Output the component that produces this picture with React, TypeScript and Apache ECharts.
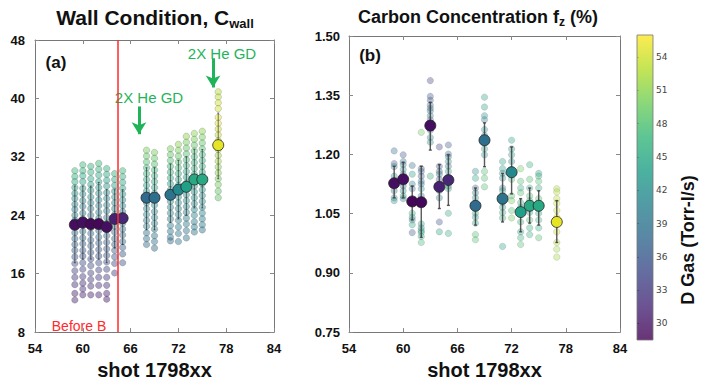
import { useEffect, useRef } from 'react';
import * as echarts from 'echarts';

const shots = [59, 60, 61, 62, 63, 64, 65, 68, 69, 71, 72, 73, 74, 75, 77];
const gasBig = [29.5, 29.5, 29, 29, 29.5, 31, 31.5, 38, 38.5, 39, 41.5, 44, 45, 45, 55];
const wallMean = [22.7, 23.0, 22.8, 22.8, 22.4, 23.5, 23.6, 26.4, 26.4, 26.8, 27.5, 27.9, 28.9, 28.9, 33.6];
const wallLo = [17.5, 18, 18, 18, 17.5, 19.5, 20, 22, 22, 23, 23.5, 24, 25, 25, 29];
const wallHi = [28, 28, 28, 28.5, 27.5, 27.5, 27.5, 30.5, 30.5, 31, 31.5, 32, 33, 33, 38];
const fzMean = [1.127, 1.137, 1.081, 1.079, 1.273, 1.118, 1.135, 1.07, 1.236, 1.088, 1.155, 1.054, 1.07, 1.07, 1.029];
const fzLo = [1.09, 1.09, 1.034, 0.99, 1.211, 1.063, 1.071, 1.021, 1.169, 1.029, 1.1, 1.004, 1.026, 1.021, 0.977];
const fzHi = [1.17, 1.18, 1.12, 1.17, 1.332, 1.174, 1.199, 1.115, 1.28, 1.152, 1.219, 1.088, 1.115, 1.108, 1.083];

// [shot, wall value, gas]
const wallPoints = [
  [59, 30.1, 47], [59, 29.3, 46], [59, 28.6, 45], [59, 27.8, 44], [59, 27.0, 43], [59, 26.3, 42], [59, 25.5, 41], [59, 24.8, 40], [59, 24.0, 40], [59, 23.3, 39], [59, 22.4, 39], [59, 21.6, 38], [59, 20.8, 38], [59, 20.0, 37], [59, 19.2, 37], [59, 18.3, 36], [59, 17.4, 35], [59, 16.4, 34], [59, 15.5, 33], [59, 14.5, 32], [59, 13.3, 31], [59, 12.4, 31],
  [60, 30.9, 47], [60, 30.1, 46], [60, 29.4, 45], [60, 28.6, 44], [60, 27.7, 43], [60, 26.9, 42], [60, 26.0, 41], [60, 25.2, 40], [60, 24.3, 40], [60, 23.5, 39], [60, 22.6, 39], [60, 21.8, 38], [60, 20.9, 38], [60, 20.1, 37], [60, 19.2, 36], [60, 18.4, 36], [60, 17.5, 35], [60, 16.6, 34], [60, 15.6, 33], [60, 14.7, 32], [60, 13.9, 32], [60, 13.1, 31],
  [61, 30.7, 46], [61, 29.9, 46], [61, 29.0, 45], [61, 28.2, 44], [61, 27.4, 43], [61, 26.5, 42], [61, 25.7, 41], [61, 24.9, 40], [61, 24.0, 39], [61, 23.2, 39], [61, 22.3, 38], [61, 21.5, 38], [61, 20.6, 37], [61, 19.8, 37], [61, 18.9, 36], [61, 18.0, 35], [61, 17.1, 35], [61, 16.1, 34], [61, 15.2, 33], [61, 14.3, 32], [61, 13.1, 31],
  [62, 31.1, 47], [62, 30.3, 46], [62, 29.5, 45], [62, 28.6, 44], [62, 27.8, 43], [62, 27.0, 42], [62, 26.1, 41], [62, 25.3, 40], [62, 24.4, 40], [62, 23.6, 39], [62, 22.7, 39], [62, 21.9, 38], [62, 21.0, 38], [62, 20.2, 37], [62, 19.3, 36], [62, 18.4, 36], [62, 17.5, 35], [62, 16.5, 34], [62, 15.5, 33], [62, 14.4, 32], [62, 13.1, 31],
  [63, 30.4, 46], [63, 29.6, 45], [63, 28.8, 44], [63, 28.0, 43], [63, 27.1, 42], [63, 26.3, 41], [63, 25.4, 40], [63, 24.6, 40], [63, 23.7, 39], [63, 22.9, 39], [63, 22.0, 38], [63, 21.2, 38], [63, 20.3, 37], [63, 19.4, 36], [63, 18.5, 36], [63, 17.6, 35], [63, 16.6, 34], [63, 15.5, 33], [63, 14.4, 32], [63, 13.3, 31], [63, 12.5, 30],
  [64, 29.7, 46], [64, 28.9, 45], [64, 28.1, 44], [64, 27.3, 43], [64, 26.5, 42], [64, 25.7, 41], [64, 24.9, 40], [64, 24.1, 40], [64, 23.3, 39], [64, 22.5, 39], [64, 21.7, 38], [64, 20.8, 38], [64, 20.0, 37], [64, 19.2, 37], [64, 18.3, 36], [64, 17.4, 35], [64, 16.1, 34],
  [65, 30.1, 47], [65, 29.3, 46], [65, 28.5, 45], [65, 27.7, 44], [65, 26.9, 43], [65, 26.1, 42], [65, 25.3, 41], [65, 24.5, 40], [65, 23.7, 40], [65, 22.9, 39], [65, 22.1, 39], [65, 21.3, 38], [65, 20.4, 38], [65, 19.6, 37], [65, 18.7, 36], [65, 17.5, 36],
  [68, 32.9, 50], [68, 32.1, 49], [68, 31.3, 48], [68, 30.5, 47], [68, 29.7, 46], [68, 28.9, 45], [68, 28.1, 44], [68, 27.3, 43], [68, 26.5, 42], [68, 25.7, 42], [68, 24.9, 41], [68, 24.1, 41], [68, 23.3, 40], [68, 22.5, 40], [68, 21.6, 39], [68, 20.8, 39], [68, 20.0, 38],
  [69, 32.6, 50], [69, 31.8, 49], [69, 31.0, 48], [69, 30.2, 47], [69, 29.4, 46], [69, 28.6, 45], [69, 27.8, 44], [69, 27.0, 43], [69, 26.2, 42], [69, 25.4, 42], [69, 24.5, 41], [69, 23.7, 41], [69, 22.9, 40], [69, 22.1, 40], [69, 21.2, 39], [69, 20.4, 39], [69, 19.5, 38],
  [71, 33.1, 50], [71, 32.3, 49], [71, 31.5, 48], [71, 30.7, 47], [71, 29.9, 46], [71, 29.1, 45], [71, 28.3, 44], [71, 27.5, 43], [71, 26.7, 42], [71, 25.9, 42], [71, 25.1, 41], [71, 24.3, 41], [71, 23.5, 40], [71, 22.6, 40], [71, 21.8, 39], [71, 21.0, 39], [71, 20.5, 38],
  [72, 33.7, 51], [72, 32.9, 50], [72, 32.1, 49], [72, 31.3, 48], [72, 30.5, 47], [72, 29.7, 46], [72, 28.9, 45], [72, 28.1, 44], [72, 27.3, 43], [72, 26.5, 42], [72, 25.7, 42], [72, 24.9, 41], [72, 24.1, 41], [72, 23.3, 40], [72, 22.4, 40], [72, 21.5, 39], [72, 20.4, 39],
  [73, 34.8, 51], [73, 34.0, 50], [73, 33.2, 49], [73, 32.4, 48], [73, 31.6, 47], [73, 30.8, 46], [73, 30.0, 45], [73, 29.2, 44], [73, 28.4, 44], [73, 27.6, 43], [73, 26.8, 42], [73, 26.0, 42], [73, 25.2, 41], [73, 24.4, 41], [73, 23.6, 40], [73, 22.8, 40], [73, 21.9, 39], [73, 20.9, 39],
  [74, 35.2, 51], [74, 34.4, 50], [74, 33.6, 49], [74, 32.8, 48], [74, 32.0, 47], [74, 31.2, 46], [74, 30.4, 46], [74, 29.6, 45], [74, 28.8, 44], [74, 28.0, 43], [74, 27.2, 43], [74, 26.4, 42], [74, 25.6, 42], [74, 24.8, 41], [74, 24.0, 41], [74, 23.1, 40], [74, 22.4, 40], [74, 21.7, 39],
  [75, 35.5, 51], [75, 34.7, 50], [75, 33.9, 49], [75, 33.1, 48], [75, 32.3, 47], [75, 31.5, 46], [75, 30.7, 46], [75, 29.9, 45], [75, 29.1, 44], [75, 28.3, 43], [75, 27.5, 43], [75, 26.7, 42], [75, 25.9, 42], [75, 25.1, 41], [75, 24.3, 41], [75, 23.5, 40], [75, 22.7, 40], [75, 22.0, 39],
  [77, 40.9, 53], [77, 40.2, 53], [77, 39.4, 54], [77, 38.6, 54], [77, 37.4, 55], [77, 36.6, 55], [77, 35.8, 54], [77, 35.0, 54], [77, 34.2, 53], [77, 33.0, 53], [77, 32.2, 52], [77, 31.4, 52], [77, 30.6, 51], [77, 29.8, 51], [77, 29.0, 50], [77, 28.2, 50], [77, 27.3, 49], [77, 26.4, 49],
];

// [shot, fz value, gas]
const fzPoints = [
  [59, 1.209, 38], [59, 1.177, 36], [59, 1.169, 40], [59, 1.145, 42], [59, 1.108, 38], [59, 1.09, 40], [59, 1.083, 43],
  [60, 1.199, 36], [60, 1.182, 38], [60, 1.174, 40], [60, 1.162, 42], [60, 1.15, 40], [60, 1.12, 38], [60, 1.108, 42], [60, 1.095, 44], [60, 1.088, 40],
  [61, 1.172, 38], [61, 1.15, 44], [61, 1.125, 40], [61, 1.113, 38], [61, 1.051, 46], [61, 1.041, 44], [61, 1.034, 40], [61, 1.022, 45], [61, 1.002, 36],
  [62, 1.256, 50], [62, 1.164, 36], [62, 1.157, 38], [62, 1.145, 36], [62, 1.132, 40], [62, 1.125, 38], [62, 1.113, 42], [62, 1.095, 40], [62, 1.024, 44], [62, 1.014, 42], [62, 1.007, 46], [62, 1.002, 44], [62, 0.992, 45], [62, 0.977, 47],
  [63, 1.387, 33], [63, 1.347, 35], [63, 1.337, 36], [63, 1.325, 38], [63, 1.317, 37], [63, 1.31, 39], [63, 1.298, 40], [63, 1.288, 38], [63, 1.28, 40], [63, 1.261, 42], [63, 1.243, 40], [63, 1.231, 42], [63, 1.145, 46],
  [64, 1.219, 33], [64, 1.17, 36], [64, 1.157, 38], [64, 1.15, 40], [64, 1.137, 36], [64, 1.108, 38], [64, 1.09, 40], [64, 1.029, 35], [64, 1.004, 44],
  [65, 1.224, 36], [65, 1.201, 38], [65, 1.194, 40], [65, 1.182, 42], [65, 1.17, 40], [65, 1.157, 44], [65, 1.12, 46], [65, 1.113, 44], [65, 1.051, 45], [65, 1.0, 46],
  [68, 1.157, 42], [68, 1.14, 45], [68, 1.115, 38], [68, 1.103, 40], [68, 1.09, 42], [68, 1.063, 44], [68, 1.051, 46], [68, 1.041, 42], [68, 1.026, 44], [68, 0.997, 48], [68, 0.984, 48],
  [69, 1.345, 44], [69, 1.32, 44], [69, 1.298, 42], [69, 1.288, 40], [69, 1.263, 42], [69, 1.248, 40], [69, 1.231, 42], [69, 1.214, 44], [69, 1.199, 42], [69, 1.157, 48], [69, 1.14, 48], [69, 1.118, 48],
  [71, 1.182, 44], [71, 1.164, 44], [71, 1.152, 42], [71, 1.14, 42], [71, 1.115, 40], [71, 1.108, 44], [71, 1.078, 42], [71, 1.066, 44], [71, 1.053, 46], [71, 1.039, 46], [71, 0.967, 44],
  [72, 1.236, 44], [72, 1.214, 42], [72, 1.199, 44], [72, 1.182, 42], [72, 1.162, 46], [72, 1.137, 48], [72, 1.095, 48], [72, 1.083, 50], [72, 1.058, 48], [72, 1.039, 50],
  [73, 1.164, 50], [73, 1.132, 48], [73, 1.115, 46], [73, 1.103, 48], [73, 1.078, 46], [73, 1.066, 44], [73, 1.029, 46], [73, 1.004, 44], [73, 0.989, 46], [73, 0.972, 48],
  [74, 1.174, 46], [74, 1.137, 48], [74, 1.115, 46], [74, 1.095, 48], [74, 1.083, 46], [74, 1.053, 44], [74, 1.034, 48], [74, 1.014, 46], [74, 0.997, 46],
  [75, 1.152, 44], [75, 1.145, 46], [75, 1.132, 48], [75, 1.115, 46], [75, 1.088, 48], [75, 1.063, 46], [75, 1.051, 44], [75, 1.034, 46], [75, 1.014, 46], [75, 0.989, 48],
  [77, 1.113, 52], [77, 1.105, 53], [77, 1.088, 53], [77, 1.076, 54], [77, 1.058, 54], [77, 1.041, 55], [77, 1.004, 54], [77, 0.977, 53], [77, 0.96, 52], [77, 0.94, 52],
];

const gasTicks = [30, 33, 36, 39, 42, 45, 48, 51, 54];
const gasMin = 28.5;
const gasMax = 56;
const viridis = ['#440154', '#482878', '#3e4989', '#31688e', '#26828e', '#1f9e89', '#35b779', '#6ece58', '#b5de2b', '#fde725'];

const FONT = 'Liberation Sans, Arial, Helvetica, sans-serif';
const GREEN = '#1fb45a';

function errRender(color: string, width: number, cap: number) {
  return (params: any, api: any) => {
    const x = api.value(0);
    const p1 = api.coord([x, api.value(1)]);
    const p2 = api.coord([x, api.value(2)]);
    const st = { stroke: color, lineWidth: width };
    return {
      type: 'group',
      children: [
        { type: 'line', shape: { x1: p1[0], y1: p1[1], x2: p2[0], y2: p2[1] }, style: st },
        { type: 'line', shape: { x1: p1[0] - cap, y1: p1[1], x2: p1[0] + cap, y2: p1[1] }, style: st },
        { type: 'line', shape: { x1: p2[0] - cap, y1: p2[1], x2: p2[0] + cap, y2: p2[1] }, style: st },
      ],
    };
  };
}

export default function App() {
  const ref = useRef<HTMLDivElement>(null);
  useEffect(() => {
    if (!ref.current) return;
    const chart = echarts.init(ref.current, null, { renderer: 'svg' });

    const axisLbl = { fontFamily: FONT, fontWeight: 'bold', fontSize: 13, color: '#111' };
    const lineC = { lineStyle: { color: '#777', width: 1 } };
    const tickIn = { show: true, inside: true, length: 4, lineStyle: { color: '#888' } };

    const xBase = (grid: number) => ({
      type: 'value', gridIndex: grid, min: 54, max: 84, interval: 6,
      axisLine: lineC, axisTick: tickIn, splitLine: { show: false },
      axisLabel: { ...axisLbl, margin: 10 },
      name: 'shot 1798xx', nameLocation: 'middle', nameGap: 21,
      nameTextStyle: { fontFamily: FONT, fontWeight: 'bold', fontSize: 20, color: '#111' },
    });
    const xTop = (grid: number) => ({
      type: 'value', gridIndex: grid, position: 'top', min: 54, max: 84, interval: 6,
      axisLine: lineC, axisTick: tickIn, axisLabel: { show: false }, splitLine: { show: false },
    });

    const option: any = {
      animation: false,
      backgroundColor: '#fff',
      grid: [
        { left: 35, top: 40, width: 239, height: 300 },
        { left: 349, top: 36, width: 271, height: 304 },
        { left: 637, top: 35, width: 16, height: 305 },
      ],
      xAxis: [
        xBase(0), xTop(0), xBase(1), xTop(1),
        { type: 'value', gridIndex: 2, show: false, min: 0, max: 1 },
      ],
      yAxis: [
        { type: 'value', gridIndex: 0, min: 8, max: 48, interval: 8, axisLine: lineC, axisTick: tickIn, splitLine: { show: false }, axisLabel: { ...axisLbl, margin: 10 } },
        { type: 'value', gridIndex: 0, position: 'right', min: 8, max: 48, interval: 8, axisLine: lineC, axisTick: tickIn, splitLine: { show: false }, axisLabel: { show: false } },
        { type: 'value', gridIndex: 1, min: 0.75, max: 1.5, interval: 0.15, axisLine: lineC, axisTick: tickIn, splitLine: { show: false }, axisLabel: { ...axisLbl, margin: 9, formatter: (v: number) => v.toFixed(2) } },
        { type: 'value', gridIndex: 1, position: 'right', min: 0.75, max: 1.5, interval: 0.15, axisLine: lineC, axisTick: tickIn, splitLine: { show: false }, axisLabel: { show: false } },
        {
          type: 'value', gridIndex: 2, position: 'right', min: gasMin, max: gasMax,
          axisLine: { show: false }, splitLine: { show: false },
          axisTick: { show: true, length: 2, customValues: gasTicks, lineStyle: { color: '#666' } },
          axisLabel: { show: true, margin: 3, customValues: gasTicks, fontFamily: 'DejaVu Sans, sans-serif', fontSize: 9, color: '#444' },
        },
      ],
      visualMap: {
        type: 'continuous', show: false, min: gasMin, max: gasMax, dimension: 2,
        seriesIndex: [0, 2, 3, 5], inRange: { color: viridis },
      },
      series: [
        {
          type: 'scatter', xAxisIndex: 0, yAxisIndex: 0, data: wallPoints, symbolSize: 6.5, z: 2,
          itemStyle: { opacity: 0.45, borderColor: 'rgba(40,40,40,0.6)', borderWidth: 0.7 },
          markLine: {
            silent: true, symbol: ['none', 'none'], label: { show: false },
            lineStyle: { color: '#ff2a2a', width: 1.5, type: 'solid' },
            data: [{ xAxis: 64.4 }],
          },
        },
        {
          type: 'custom', xAxisIndex: 0, yAxisIndex: 0, z: 3,
          data: shots.map((s, i) => [s, wallLo[i], wallHi[i]]),
          encode: { x: 0, y: [1, 2] },
          renderItem: errRender('rgba(30,30,30,0.6)', 1, 1),
        },
        {
          type: 'scatter', xAxisIndex: 0, yAxisIndex: 0, z: 4, symbolSize: 11,
          data: shots.map((s, i) => [s, wallMean[i], gasBig[i]]),
          itemStyle: { opacity: 1, borderColor: '#222', borderWidth: 0.8 },
          markLine: {
            silent: true, symbol: ['none', 'arrow'], symbolSize: [11, 12], label: { show: false },
            lineStyle: { color: GREEN, width: 3, type: 'solid' },
            data: [
              [{ coord: [67.05, 38.9] }, { coord: [67.05, 35.1] }],
              [{ coord: [76.35, 45.5] }, { coord: [76.35, 41.5] }],
            ],
          },
        },
        {
          type: 'scatter', xAxisIndex: 2, yAxisIndex: 2, data: fzPoints, symbolSize: 6.5, z: 2,
          itemStyle: { opacity: 0.35, borderColor: 'rgba(40,40,40,0.5)', borderWidth: 0.7 },
        },
        {
          type: 'custom', xAxisIndex: 2, yAxisIndex: 2, z: 3,
          data: shots.map((s, i) => [s, fzLo[i], fzHi[i]]),
          encode: { x: 0, y: [1, 2] },
          renderItem: errRender('rgba(60,60,60,0.85)', 1.4, 1.5),
        },
        {
          type: 'scatter', xAxisIndex: 2, yAxisIndex: 2, z: 4, symbolSize: 11,
          data: shots.map((s, i) => [s, fzMean[i], gasBig[i]]),
          itemStyle: { opacity: 1, borderColor: '#222', borderWidth: 0.8 },
        },
      ],
      graphic: [
        {
          type: 'rect', z: 1,
          shape: { x: 637, y: 35, width: 16, height: 305 },
          style: {
            fill: new echarts.graphic.LinearGradient(0, 0, 0, 1,
              viridis.slice().reverse().map((c, i) => ({ offset: i / (viridis.length - 1), color: c }))),
            stroke: '#777', lineWidth: 1, opacity: 0.8,
          },
        },
        {
          type: 'text', x: 155, y: 17,
          style: {
            text: 'Wall Condition, C{s|wall}', align: 'center', verticalAlign: 'middle',
            fontFamily: FONT, fontWeight: 'bold', fontSize: 21, fill: '#111',
            rich: { s: { fontFamily: FONT, fontWeight: 'bold', fontSize: 13, fill: '#111', padding: [12, 0, 0, 0] } },
          },
        },
        {
          type: 'text', x: 478, y: 17,
          style: {
            text: 'Carbon Concentration f{s|z} (%)', align: 'center', verticalAlign: 'middle',
            fontFamily: FONT, fontWeight: 'bold', fontSize: 18, fill: '#111',
            rich: { s: { fontFamily: FONT, fontWeight: 'bold', fontSize: 12, fill: '#111', padding: [10, 0, 0, 0] } },
          },
        },
        {
          type: 'text', x: 56, y: 62,
          style: { text: '(a)', align: 'center', verticalAlign: 'middle', fontFamily: FONT, fontWeight: 'bold', fontSize: 17, fill: '#111' },
        },
        {
          type: 'text', x: 370, y: 55,
          style: { text: '(b)', align: 'center', verticalAlign: 'middle', fontFamily: FONT, fontWeight: 'bold', fontSize: 17, fill: '#111' },
        },
        {
          type: 'text', x: 79, y: 326,
          style: { text: 'Before B', align: 'center', verticalAlign: 'middle', fontFamily: FONT, fontSize: 14, fill: '#ff2a2a' },
        },
        {
          type: 'text', x: 149, y: 97,
          style: { text: '2X He GD', align: 'center', verticalAlign: 'middle', fontFamily: FONT, fontSize: 15, fill: GREEN },
        },
        {
          type: 'text', x: 222, y: 53,
          style: { text: '2X He GD', align: 'center', verticalAlign: 'middle', fontFamily: FONT, fontSize: 15, fill: GREEN },
        },
        {
          type: 'text', x: 688, y: 240, rotation: Math.PI / 2,
          style: { text: 'D Gas (Torr-l/s)', align: 'center', verticalAlign: 'middle', fontFamily: FONT, fontWeight: 'bold', fontSize: 18, fill: '#111' },
        },
      ],
    };
    chart.setOption(option);
    return () => chart.dispose();
  }, []);
  return <div ref={ref} style={{ position: 'fixed', left: 0, top: 0, width: 703, height: 385, background: '#fff' }} />;
}
